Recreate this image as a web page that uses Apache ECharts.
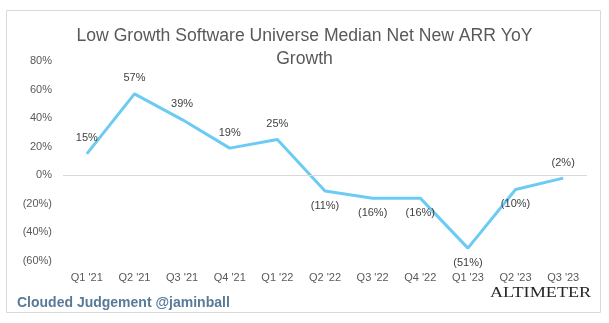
<!DOCTYPE html>
<html><head><meta charset="utf-8">
<script src="https://cdn.jsdelivr.net/npm/echarts@6/dist/echarts.min.js"></script>
<style>html,body{margin:0;padding:0;background:#fff}#c{width:609px;height:323px}</style>
</head><body><div id="c"></div>
<script>
const categories = ["Q1 '21","Q2 '21","Q3 '21","Q4 '21","Q1 '22","Q2 '22","Q3 '22","Q4 '22","Q1 '23","Q2 '23","Q3 '23"];
const growth = [15, 57, 39, 19, 25, -11, -16, -16, -51, -10, -2];
const yTicks = [-60, -40, -20, 0, 20, 40, 60, 80];
const titleText = "Low Growth Software Universe Median Net New ARR YoY\nGrowth";

function pct(v){ return v < 0 ? '(' + Math.abs(v) + '%)' : v + '%'; }

const chart = echarts.init(document.getElementById('c'), null, {renderer:'canvas'});
const lastIdx = growth.length - 1;
const seriesData = growth.map((v, i) => {
  const above = (v >= 0 || i === lastIdx);
  return { value: v, label: { show: true, position: above ? 'top' : 'bottom', distance: above ? 9 : 8 } };
});

chart.setOption({
  animation: false,
  title: {
    text: titleText, left: 'center', top: 20,
    textStyle: { fontFamily: 'Liberation Sans', fontSize: 17.6, fontWeight: 'normal', color: '#595959', lineHeight: 23 }
  },
  grid: { left: 63, right: 22, top: 61, bottom: 62 },
  xAxis: {
    type: 'category', data: categories, boundaryGap: true,
    axisLine: { show: false }, axisTick: { show: false },
    axisLabel: { margin: 11, fontFamily: 'Liberation Sans', fontSize: 11, color: '#595959' }
  },
  yAxis: {
    type: 'value', min: yTicks[0], max: yTicks[yTicks.length-1], interval: 20,
    splitLine: { show: false }, axisLine: { show: false }, axisTick: { show: false },
    axisLabel: { margin: 11, fontFamily: 'Liberation Sans', fontSize: 11, color: '#595959', formatter: v => pct(v) }
  },
  series: [{
    type: 'line', data: seriesData, showSymbol: true, symbol: 'circle', symbolSize: 2,
    itemStyle: { color: 'rgba(0,0,0,0)', borderWidth: 0 },
    lineStyle: { color: '#6CCBF4', width: 3 },
    label: { show: true, fontFamily: 'Liberation Sans', fontSize: 11, color: '#404040', formatter: p => pct(p.value) },
    labelLayout: { hideOverlap: false },
    markLine: {
      silent: true, symbol: ['none','none'], label: { show: false },
      lineStyle: { color: '#d9d9d9', width: 1, type: 'solid' },
      data: [{ yAxis: 0 }]
    },
    z: 3
  }],
  graphic: [
    { type: 'rect', shape: { x: 6.5, y: 10.5, width: 594, height: 302 }, style: { fill: 'none', stroke: '#d9d9d9', lineWidth: 1 }, silent: true, z: -1 },
    { type: 'text', left: 17, top: 296, style: { text: 'Clouded Judgement @jaminball', fontFamily: 'Liberation Sans', fontWeight: 'bold', fontSize: 14, fill: '#587a99' } },
    { type: 'text', x: 490, y: 286, scaleX: 1.21, style: {
        text: 'ALTIMETER', fontFamily: 'Liberation Serif', fontSize: 15, fill: '#262626'
      } }
  ]
});
</script></body></html>
